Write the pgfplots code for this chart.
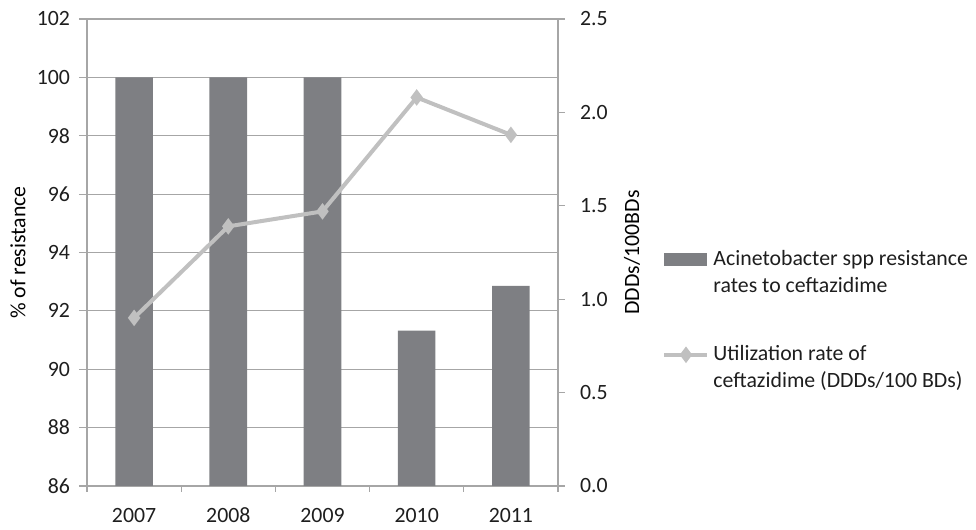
\documentclass[border=0pt]{standalone}
\usepackage{pgfplots}
\pgfplotsset{compat=1.18}
\usepackage{fontspec}
\setmainfont{Carlito}

\definecolor{barcol}{RGB}{126,127,131}
\definecolor{linecol}{RGB}{192,192,192}
\definecolor{gridcol}{RGB}{166,166,166}
\definecolor{txtcol}{RGB}{30,30,30}

\pgfplotsset{
  base/.style={
    width=235.5pt, height=233.5pt, scale only axis,
    xmin=-0.5, xmax=4.5,
    font=\fontsize{10.9pt}{13.5pt}\selectfont,
    /pgf/number format/assume math mode=true,
    tick align=outside,
    major tick length=4pt,
    tick style={gridcol, line width=0.6pt},
    axis line style={gridcol, line width=0.6pt, -},
    ticklabel style={txtcol},
    label style={txtcol},
  }
}

\begin{document}
\begin{tikzpicture}
% left axis: resistance rates (bars)
\begin{axis}[base,
  ymin=86, ymax=102, ytick={86,88,...,102},
  ymajorgrids, grid style={gridcol, line width=0.6pt},
  xtick={0,1,2,3,4},
  xticklabels={2007,2008,2009,2010,2011},
  major x tick style={draw=none},
  minor xtick={-0.5,0.5,1.5,2.5,3.5,4.5},
  minor tick length=3pt,
  xtick pos=bottom, ytick pos=left,
  xticklabel style={yshift=-3.5pt},
  yticklabel style={xshift=-1pt},
  ylabel={\% of resistance},
  every axis y label/.style={at={(axis description cs:-0.1465,0.5)}, rotate=90, anchor=center},
  legend style={at={(axis description cs:1.221,0.355)}, anchor=west,
    draw=none, fill=none, inner sep=0pt, row sep=21pt, column sep=0pt,
    cells={anchor=west, align=left},
    font=\fontsize{10.9pt}{13.5pt}\selectfont, text=txtcol},
]
\coordinate (O) at (rel axis cs:0,0);
\addplot[ybar, bar width=18.8pt, fill=barcol, draw=none,
  legend image code/.code={\fill[barcol] (0pt,3.25pt) rectangle (21.5pt,9.75pt);}]
  coordinates {(0,100) (1,100) (2,100) (3,91.32) (4,92.86)};
\addlegendentry{Acinetobacter spp resistance\\rates to ceftazidime}
\addlegendimage{legend image code/.code={\draw[mark repeat=2, mark phase=2, linecol, line width=2pt,
    mark=diamond*, mark size=2.5pt, mark options={fill=linecol}]
    plot coordinates {(0pt,6.5pt) (10.75pt,6.5pt) (21.5pt,6.5pt)};}}
\addlegendentry{Utilization rate of\\ceftazidime (DDDs/100 BDs)}
\end{axis}

% right axis: utilization rate (line)
\begin{axis}[base,
  ymin=0, ymax=2.5, ytick={0,0.5,...,2.5},
  major tick length=3.5pt,
  hide x axis,
  axis y line*=right,
  yticklabel style={xshift=4pt, /pgf/number format/.cd, fixed, fixed zerofill, precision=1},
  ylabel={DDDs/100BDs},
  every axis y label/.style={at={(axis description cs:1.157,0.5)}, rotate=90, anchor=center},
]
\addplot[linecol, line width=2pt, mark=diamond*, mark size=2.5pt, mark options={fill=linecol}]
  coordinates {(0,0.90) (1,1.39) (2,1.47) (3,2.08) (4,1.88)};
\end{axis}

\path ([shift={(-43.5pt,-19.5pt)}]O) rectangle ([shift={(444.5pt,243pt)}]O);
\end{tikzpicture}
\end{document}
